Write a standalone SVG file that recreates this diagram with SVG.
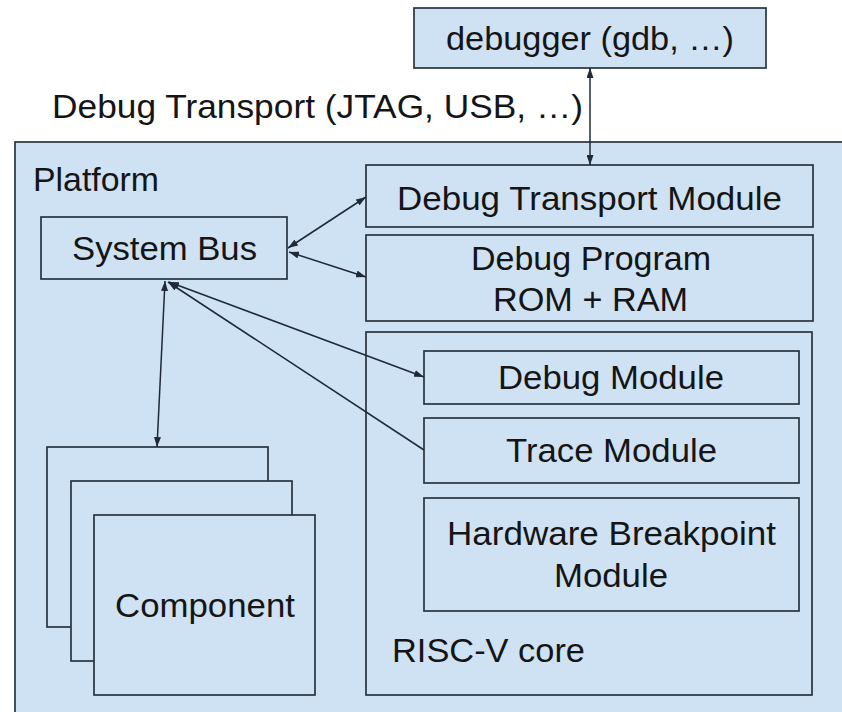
<svg xmlns="http://www.w3.org/2000/svg" width="842" height="712" viewBox="0 0 842 712">
  <defs>
    <marker id="arrow" viewBox="0 0 10 7" refX="10" refY="3.5" markerWidth="10" markerHeight="7" markerUnits="userSpaceOnUse" orient="auto-start-reverse">
      <path d="M0,0 L10,3.5 L0,7 z" fill="#1f2a36"/>
    </marker>
  </defs>
  <style>
    .box { fill: #cfe2f3; stroke: #28343f; stroke-width: 1.7; }
    .lbl { font-family: "Liberation Sans", Arial, Helvetica, sans-serif; font-size: 33px; fill: #151515; }
    .conn { fill: none; stroke: #1f2a36; stroke-width: 1.5; }
  </style>

  <rect x="0" y="0" width="842" height="712" fill="#ffffff"/>

  <!-- host debugger -->
  <g id="debugger">
    <rect class="box" x="414" y="8" width="352" height="60"/>
    <text class="lbl" x="446" y="50" textLength="288" lengthAdjust="spacingAndGlyphs">debugger (gdb, …)</text>
  </g>

  <g id="transport-label">
    <text class="lbl" x="52" y="118" textLength="531" lengthAdjust="spacingAndGlyphs">Debug Transport (JTAG, USB, …)</text>
  </g>

  <!-- platform container -->
  <g id="platform">
    <rect class="box" x="15" y="142" width="840" height="590"/>
    <text class="lbl" x="33" y="191" textLength="126" lengthAdjust="spacingAndGlyphs">Platform</text>
  </g>

  <g id="system-bus">
    <rect class="box" x="41" y="217" width="246" height="62"/>
    <text class="lbl" x="72" y="260" textLength="185" lengthAdjust="spacingAndGlyphs">System Bus</text>
  </g>

  <g id="debug-transport-module">
    <rect class="box" x="366" y="165" width="447" height="62"/>
    <text class="lbl" x="397" y="210" textLength="385" lengthAdjust="spacingAndGlyphs">Debug Transport Module</text>
  </g>

  <g id="debug-program">
    <rect class="box" x="366" y="235" width="447" height="86"/>
    <text class="lbl" x="471" y="270" textLength="240" lengthAdjust="spacingAndGlyphs">Debug Program</text>
    <text class="lbl" x="493" y="311" textLength="195" lengthAdjust="spacingAndGlyphs">ROM + RAM</text>
  </g>

  <!-- core and its debug blocks -->
  <g id="riscv-core">
    <rect class="box" x="366" y="332" width="446" height="363"/>
    <text class="lbl" x="392" y="662" textLength="193" lengthAdjust="spacingAndGlyphs">RISC-V core</text>
  </g>

  <g id="debug-module">
    <rect class="box" x="424" y="351" width="375" height="53"/>
    <text class="lbl" x="498" y="389" textLength="226" lengthAdjust="spacingAndGlyphs">Debug Module</text>
  </g>

  <g id="trace-module">
    <rect class="box" x="424" y="418" width="375" height="65"/>
    <text class="lbl" x="506" y="462" textLength="211" lengthAdjust="spacingAndGlyphs">Trace Module</text>
  </g>

  <g id="hw-breakpoint-module">
    <rect class="box" x="424" y="498" width="375" height="113"/>
    <text class="lbl" x="447" y="545" textLength="329" lengthAdjust="spacingAndGlyphs">Hardware Breakpoint</text>
    <text class="lbl" x="554" y="587" textLength="114" lengthAdjust="spacingAndGlyphs">Module</text>
  </g>

  <!-- stacked components -->
  <g id="components">
    <rect class="box" x="47" y="447" width="221" height="180"/>
    <rect class="box" x="71" y="481" width="221" height="180"/>
    <rect class="box" x="94" y="515" width="221" height="180"/>
    <text class="lbl" x="115" y="617" textLength="180" lengthAdjust="spacingAndGlyphs">Component</text>
  </g>

  <g id="connectors">
    <path class="conn" d="M590,68 L590,165" marker-start="url(#arrow)" marker-end="url(#arrow)"/>
    <path class="conn" d="M288,248 L366,197" marker-start="url(#arrow)" marker-end="url(#arrow)"/>
    <path class="conn" d="M289,252 L366,277" marker-start="url(#arrow)" marker-end="url(#arrow)"/>
    <path class="conn" d="M165,281 L157,447" marker-start="url(#arrow)" marker-end="url(#arrow)"/>
    <path class="conn" d="M169,282 L424,377" marker-start="url(#arrow)" marker-end="url(#arrow)"/>
    <path class="conn" d="M424,450 L168,282" marker-end="url(#arrow)"/>
  </g>
</svg>
